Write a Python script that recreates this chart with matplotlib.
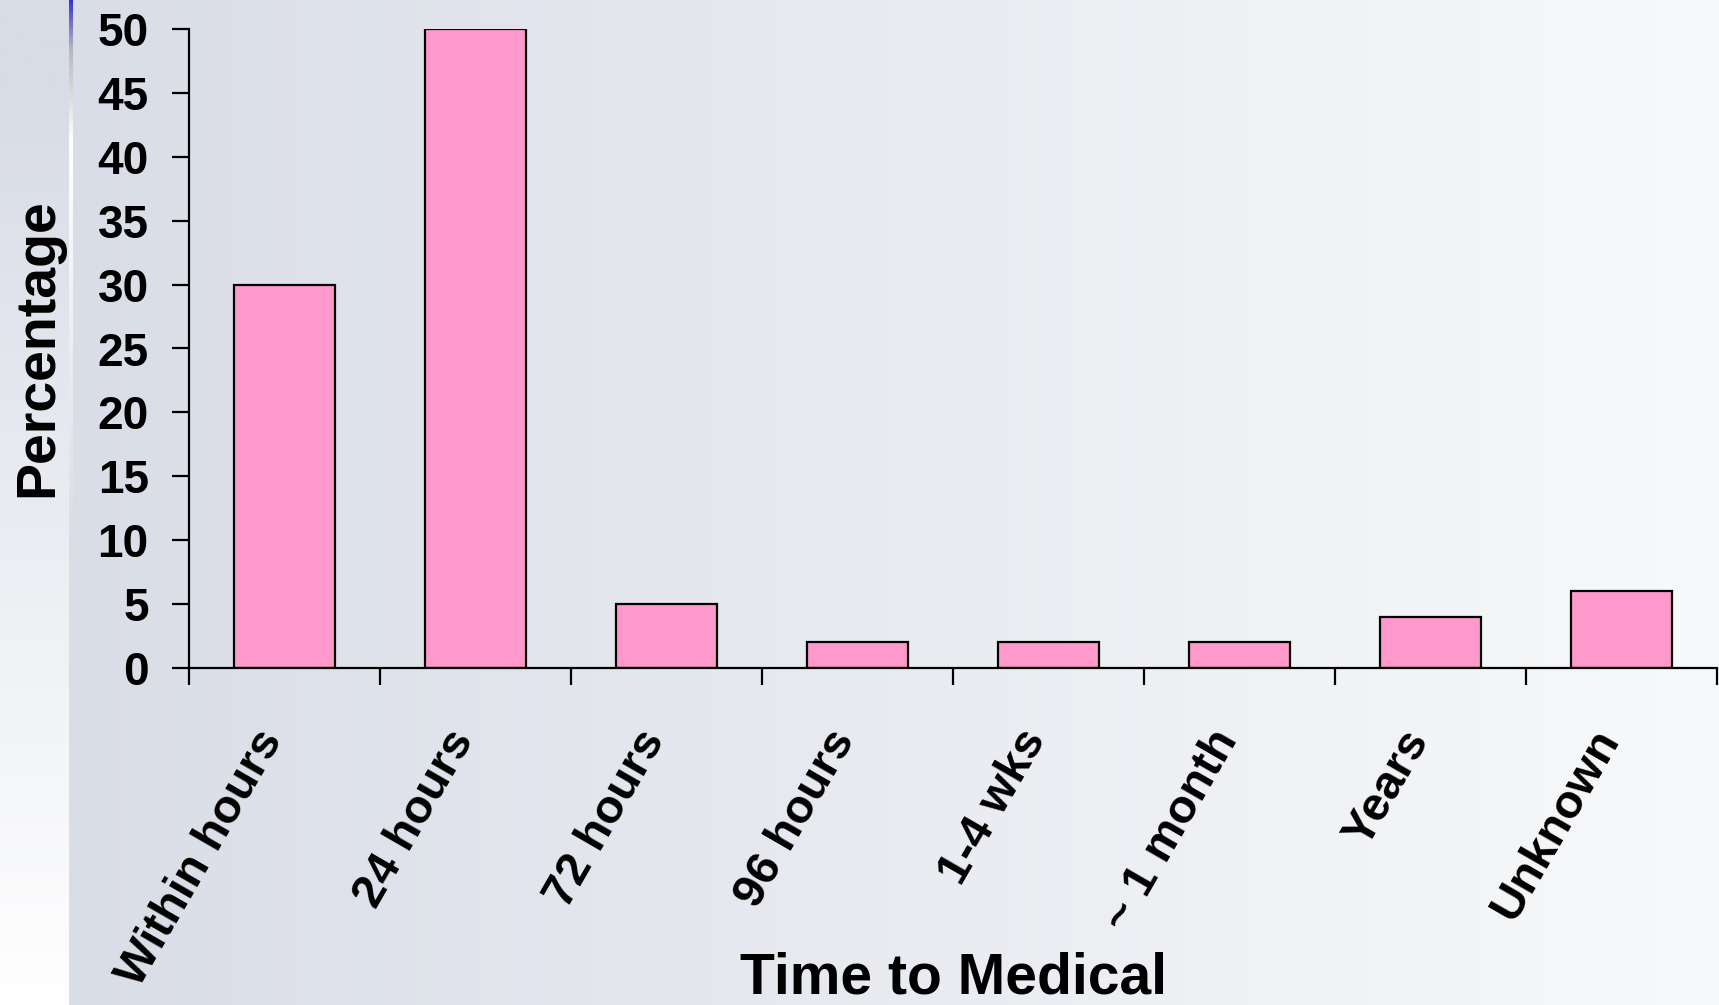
import matplotlib
matplotlib.use("Agg")
import matplotlib.pyplot as plt
import matplotlib.transforms as mtransforms
import numpy as np

categories = ["Within hours", "24 hours", "72 hours", "96 hours",
              "1-4 wks", "~ 1 month", "Years", "Unknown"]
percentages = [30, 50, 5, 2, 2, 2, 4, 6]
y_ticks = [0, 5, 10, 15, 20, 25, 30, 35, 40, 45, 50]

plt.rcParams["font.family"] = ["Liberation Sans", "DejaVu Sans"]
plt.rcParams["font.weight"] = "bold"

W, H = 1719, 1005
fig = plt.figure(figsize=(W / 100, H / 100), dpi=100)

# slide background: pale left strip, thin accent line, gradient panel
c0 = np.array([0xd8, 0xdc, 0xe6]) / 255.0
c1 = np.array([0xf8, 0xf9, 0xfa]) / 255.0
bg = np.zeros((H, W, 3))
tx = np.linspace(0, 1, W)[None, :, None]
bg[:] = c0 + (c1 - c0) * tx
ty = np.clip(np.linspace(-0.1, 1.0, H), 0, 1)[:, None, None]
bg[:, :69] = c0 + (np.array([1.0, 1.0, 1.0]) - c0) * ty
line = np.zeros((H, 3))
for i in range(H):
    if i < 50:
        f = i / 50
        line[i] = np.array([0.2, 0.2, 0.8]) * (1 - f) + np.array([0.72, 0.72, 0.74]) * f
    elif i < 140:
        f = (i - 50) / 90
        line[i] = np.array([0.72, 0.72, 0.74]) * (1 - f) + np.array([1.0, 1.0, 1.0]) * f
    else:
        f = min((i - 140) / 400, 1)
        line[i] = np.array([1.0, 1.0, 1.0]) * (1 - f) + bg[i, 69] * f
bg[:, 69:73] = line[:, None, :]

bax = fig.add_axes([0, 0, 1, 1], zorder=0)
bax.imshow(bg, aspect="auto", extent=[0, 1, 0, 1], interpolation="bilinear")
bax.set_axis_off()

ax = fig.add_axes([189 / W, 337 / H, 1528 / W, 639 / H], zorder=1)
ax.patch.set_alpha(0)

x = np.arange(len(categories)) + 0.5
ax.bar(x, percentages, width=0.53, color="#ff99cc", edgecolor="black", linewidth=1.6)

ax.set_xlim(0, len(categories))
ax.set_ylim(0, 50)
ax.set_yticks(y_ticks)
ax.set_xticks(x)
ax.set_xticklabels(categories, rotation=60, ha="right", va="center",
                   rotation_mode="anchor")
ax.set_xticks(np.arange(len(categories) + 1), minor=True)

ax.tick_params(axis="y", length=12, width=1.6, pad=17, labelsize=33)
ax.tick_params(axis="x", which="major", length=0, pad=47, labelsize=34)
ax.tick_params(axis="x", which="minor", length=12, width=1.6)
shift = mtransforms.ScaledTranslation(-12 / 100, 0, fig.dpi_scale_trans)
for lab in ax.get_xticklabels():
    lab.set_fontweight("bold")
    lab.set_transform(lab.get_transform() + shift)
for lab in ax.get_yticklabels():
    lab.set_fontweight("bold")

for s in ["top", "right"]:
    ax.spines[s].set_visible(False)
for s in ["left", "bottom"]:
    ax.spines[s].set_linewidth(1.6)

fig.text(38 / W, 1 - 348 / H, "Percentage", rotation=90, ha="center", va="center",
         fontsize=40, fontweight="bold")
fig.text(953 / W, 0, "Time to Medical", ha="center", va="bottom",
         fontsize=41, fontweight="bold")

fig.savefig("out.png", dpi=100)
